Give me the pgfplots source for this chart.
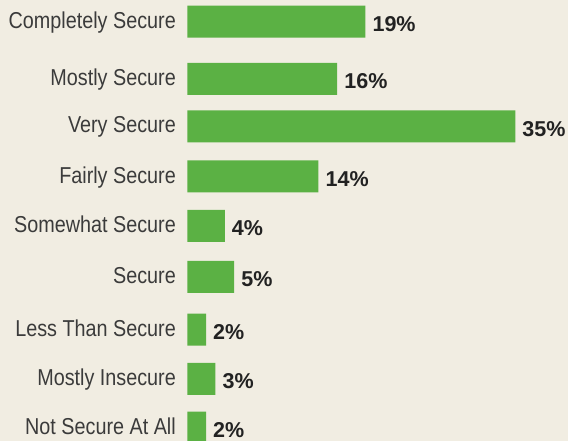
\documentclass[border=0pt]{standalone}
\usepackage{fontspec}
\setmainfont{Liberation Sans}
\usepackage{graphicx}
\usepackage{pgfplots}
\pgfplotsset{compat=1.18}
\definecolor{bg}{HTML}{F1EDE2}
\definecolor{bargreen}{HTML}{5BB144}
\definecolor{labgray}{HTML}{3B3B3B}
\definecolor{valgray}{HTML}{222222}
\newcommand\lab[1]{\scalebox{0.86}[1]{#1}}
\begin{document}
\begin{tikzpicture}
\path[use as bounding box, fill=bg] (0,0) rectangle (568pt,441pt);
\begin{axis}[
  at={(187.3pt,0pt)}, anchor=south west,
  scale only axis, width=328pt, height=441pt,
  xmin=0, xmax=35, ymin=0, ymax=441, y dir=reverse,
  enlargelimits=false, clip=false,
  axis line style={draw=none},
  major tick length=0pt, tick style={draw=none},
  xtick=\empty,
  ytick={21.7,78.8,126.5,176.5,225.8,276.8,329.5,378.8,427.5},
  yticklabels={{\lab{Completely Secure}},{\lab{Mostly Secure}},{\lab{Very Secure}},{\lab{Fairly Secure}},{\lab{Somewhat Secure}},{\lab{Secure}},{\lab{Less Than Secure}},{\lab{Mostly Insecure}},{\lab{Not Secure At All}}},
  yticklabel style={font=\fontsize{23}{23}\selectfont, text=labgray, anchor=base east, inner sep=0pt, xshift=-11.3pt, yshift=-6.5pt},
  xbar, bar width=32,
  point meta=explicit symbolic,
  nodes near coords={\pgfplotspointmeta\%},
  every node near coord/.append style={font=\bfseries\fontsize{21.5}{21.5}\selectfont, text=valgray, anchor=base west, inner sep=0pt, xshift=7pt, yshift=-9.7pt},
]
\addplot[fill=bargreen, draw=none] table[x=v, y=y, meta=v] {
v  y
19 21.7
16 78.8
35 126.5
14 176.5
4  225.8
5  276.8
2  329.5
3  378.8
2  427.5
};
\end{axis}
\end{tikzpicture}
\end{document}
